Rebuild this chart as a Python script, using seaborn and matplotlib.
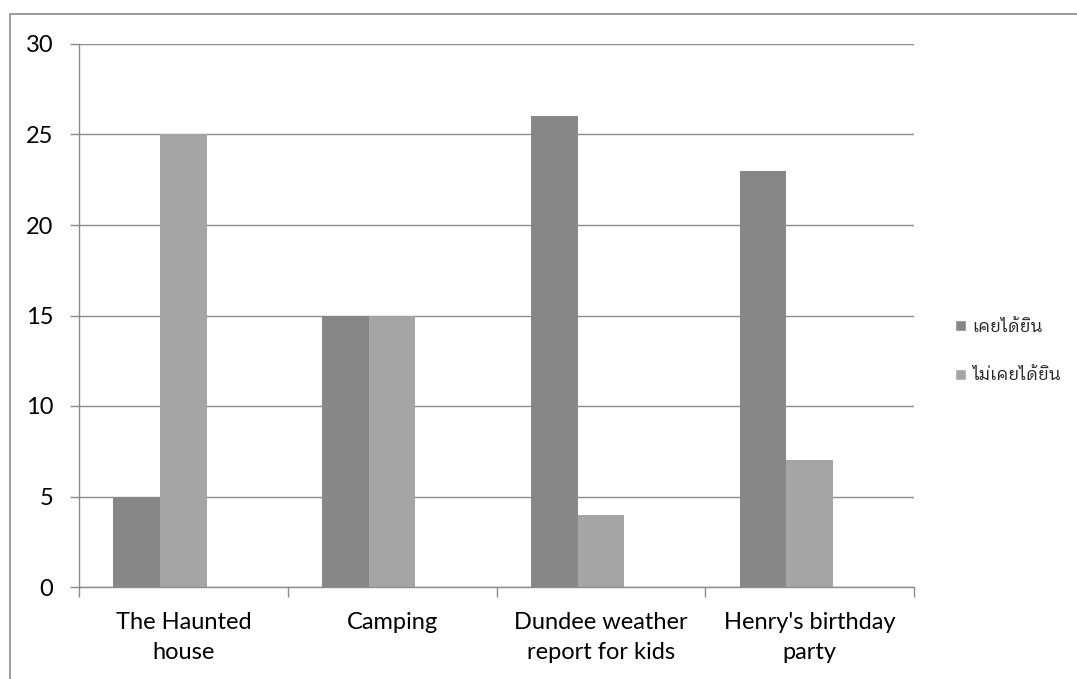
import matplotlib
matplotlib.use("Agg")
import matplotlib.pyplot as plt
from matplotlib import font_manager
import seaborn as sns
import pandas as pd
import numpy as np
from matplotlib.patches import Rectangle, Patch

categories = ["The Haunted\nhouse", "Camping", "Dundee weather\nreport for kids", "Henry's birthday\nparty"]
heard = [5, 15, 26, 23]
not_heard = [25, 15, 4, 7]
series_names = ["เคยได้ยิน", "ไม่เคยได้ยิน"]
yticks = [0, 5, 10, 15, 20, 25, 30]

sns.set_theme(style="white")
names = sorted({f.name for f in font_manager.fontManager.ttflist})
thai = [n for n in names if "Thai" in n or "Loma" in n or "Garuda" in n or "Tlwg" in n
        or "Kinnari" in n or "Norasi" in n or "Tahoma" in n]
thai.sort(key=lambda n: (0 if "Looped" in n else 1 if ("Loma" in n or "Tahoma" in n or "Garuda" in n) else 2, n))
plt.rcParams["font.family"] = ["Lato"] + thai + ["DejaVu Sans"]

df = pd.DataFrame({
    "cat": categories * 3,
    "val": heard + not_heard + [0] * 4,
    "series": [series_names[0]] * 4 + [series_names[1]] * 4 + ["_blank"] * 4,
})
dark = "#878787"
light = "#a5a5a5"

fig = plt.figure(figsize=(10.77, 6.79), dpi=100)
ax = fig.add_axes([79/1077, 1-587/679, (914-79)/1077, (587-44)/679])
sns.barplot(data=df, x="cat", y="val", hue="series",
            hue_order=[series_names[0], series_names[1], "_blank"],
            palette=[dark, light, "#ffffff"], width=0.67, linewidth=0,
            saturation=1, ax=ax, legend=False)
ax.set_xlim(-0.5, 3.5)
ax.set_ylim(0, 30)
ax.set_yticks(yticks)
ax.yaxis.grid(True, color="#8c8c8c", linewidth=1)
ax.set_axisbelow(True)
ax.set_xlabel("")
ax.set_ylabel("")
for s in ["top", "right"]:
    ax.spines[s].set_visible(False)
for s in ["left", "bottom"]:
    ax.spines[s].set_color("#8c8c8c")
    ax.spines[s].set_linewidth(1)
ax.set_xticks([-0.5, 0.5, 1.5, 2.5, 3.5], minor=False)
ax.set_xticklabels([])
ax.set_xticks([0, 1, 2, 3], minor=True)
ax.set_xticklabels(categories, minor=True, fontsize=17, color="#000000", linespacing=1.55)
ax.tick_params(axis="x", which="major", direction="out", length=7, color="#8c8c8c", width=1, bottom=True)
ax.tick_params(axis="x", which="minor", length=0, pad=18)
ax.tick_params(axis="y", direction="out", length=6.5, color="#8c8c8c", width=1, labelsize=17,
               labelcolor="#000000", left=True, pad=12)

handles = [Patch(facecolor=dark), Patch(facecolor=light)]
fig.legend(handles, series_names, loc="center left", bbox_to_anchor=(939/1077, 1-351/679),
           frameon=False, fontsize=12.5, handlelength=0.63, handleheight=0.63,
           handletextpad=0.4, labelspacing=1.9)

fig.patches.append(Rectangle((10/1077, -0.01), 1.0, 1-14/679+0.01, transform=fig.transFigure,
                             fill=False, edgecolor="#8c8c8c", linewidth=1.2))
fig.savefig("out.png", dpi=100)
